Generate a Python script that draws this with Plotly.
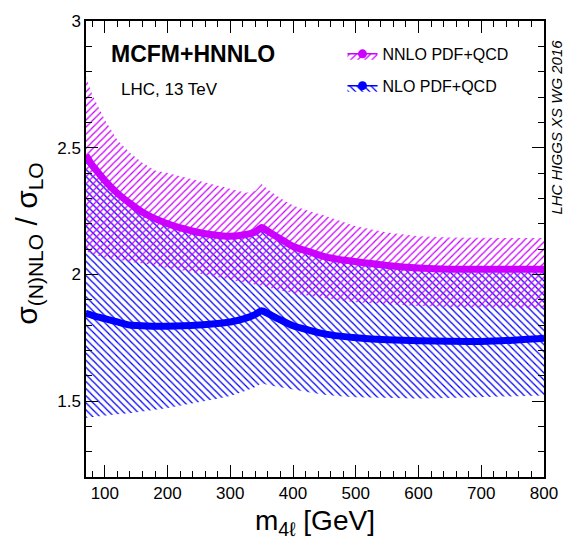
import plotly.graph_objects as go

# ---- data ----
mass = [70, 80, 90, 100, 120, 140, 160, 180, 200, 225, 250, 275, 300, 325, 340,
        350, 360, 380, 400, 425, 450, 475, 500, 550, 600, 650, 700, 750, 800]

nnlo_central = [2.47, 2.43, 2.40, 2.37, 2.32, 2.28, 2.245, 2.22, 2.20, 2.18, 2.165,
                2.155, 2.15, 2.157, 2.167, 2.185, 2.17, 2.14, 2.11, 2.09, 2.07,
                2.058, 2.05, 2.035, 2.025, 2.02, 2.02, 2.02, 2.02]
nnlo_upper = [2.78, 2.71, 2.66, 2.61, 2.53, 2.48, 2.44, 2.41, 2.40, 2.385, 2.37,
              2.355, 2.338, 2.322, 2.33, 2.357, 2.335, 2.30, 2.272, 2.25, 2.232,
              2.21, 2.19, 2.165, 2.15, 2.145, 2.143, 2.143, 2.143]
nnlo_lower = [2.09, 2.082, 2.073, 2.065, 2.057, 2.05, 2.043, 2.035, 2.025, 2.015,
              2.005, 1.993, 1.98, 1.967, 1.96, 1.955, 1.948, 1.935, 1.925, 1.915,
              1.905, 1.897, 1.89, 1.882, 1.875, 1.871, 1.868, 1.867, 1.866]

nlo_central = [1.846, 1.838, 1.831, 1.825, 1.812, 1.80, 1.797, 1.795, 1.795, 1.797,
               1.80, 1.805, 1.812, 1.827, 1.842, 1.856, 1.845, 1.82, 1.797, 1.78,
               1.765, 1.756, 1.75, 1.742, 1.738, 1.736, 1.735, 1.74, 1.748]
nlo_upper = [2.465, 2.425, 2.395, 2.365, 2.315, 2.275, 2.24, 2.215, 2.195, 2.175,
             2.16, 2.15, 2.145, 2.152, 2.162, 2.18, 2.165, 2.135, 2.105, 2.085,
             2.065, 2.053, 2.045, 2.03, 2.02, 2.015, 2.015, 2.015, 2.015]
nlo_lower = [1.434, 1.438, 1.44, 1.442, 1.448, 1.452, 1.458, 1.465, 1.472, 1.483,
             1.495, 1.507, 1.52, 1.54, 1.555, 1.57, 1.563, 1.553, 1.545, 1.535,
             1.525, 1.519, 1.515, 1.512, 1.51, 1.512, 1.515, 1.518, 1.522]

x_tick_vals = [100, 200, 300, 400, 500, 600, 700, 800]
y_tick_vals = [1.5, 2.0, 2.5, 3.0]
y_tick_text = ["1.5", "2", "2.5", "3"]

series_names = ["NNLO PDF+QCD", "NLO PDF+QCD"]

MAG = "#CC00FF"
BLUE = "#0000FF"
FONT = "Liberation Sans, Arial, sans-serif"

fig = go.Figure()


def band(xs, lo, hi, color, shape):
    return go.Scatter(
        x=list(xs) + list(xs)[::-1],
        y=list(hi) + list(lo)[::-1],
        fill="toself",
        mode="lines",
        line=dict(width=0, color=color),
        fillcolor="rgba(0,0,0,0)",
        fillpattern=dict(shape=shape, fgcolor=color, bgcolor="rgba(0,0,0,0)",
                         size=5, solidity=0.25, fillmode="replace"),
        showlegend=False,
        hoverinfo="skip",
    )


fig.add_trace(band(mass, nlo_lower, nlo_upper, BLUE, "\\"))
fig.add_trace(band(mass, nnlo_lower, nnlo_upper, MAG, "/"))

fig.add_trace(go.Scatter(x=mass, y=nlo_central, mode="lines",
                         line=dict(color=BLUE, width=7, shape="spline", smoothing=0.6),
                         showlegend=False))
fig.add_trace(go.Scatter(x=mass, y=nnlo_central, mode="lines",
                         line=dict(color=MAG, width=7, shape="spline", smoothing=0.6),
                         showlegend=False))

# legend entries
for name, color, shape, grp in [(series_names[0], MAG, "/", "a"),
                                (series_names[1], BLUE, "\\", "b")]:
    fig.add_trace(go.Scatter(
        x=[None], y=[None], name=name, legendgroup=grp,
        mode="lines+markers", fill="toself",
        fillcolor="rgba(0,0,0,0)",
        fillpattern=dict(shape=shape, fgcolor=color, bgcolor="rgba(0,0,0,0)",
                         size=5, solidity=0.25, fillmode="replace"),
        line=dict(color=color, width=1.5),
        marker=dict(color=color, size=9),
    ))

axis_common = dict(
    showline=True, linecolor="black", linewidth=1.5, mirror="ticks",
    ticks="inside", ticklen=12, tickwidth=1, tickcolor="black",
    showgrid=False, zeroline=False,
    tickfont=dict(family=FONT, size=17, color="black"),
)

fig.update_xaxes(range=[70, 800], tickvals=x_tick_vals,
                 minor=dict(dtick=20, tick0=0, ticks="inside", ticklen=6,
                            tickcolor="black", showgrid=False),
                 **axis_common)
fig.update_yaxes(range=[1.2, 3.0], tickvals=y_tick_vals, ticktext=y_tick_text,
                 minor=dict(dtick=0.1, tick0=0, ticks="inside", ticklen=6,
                            tickcolor="black", showgrid=False),
                 **axis_common)

fig.add_annotation(text="<b>MCFM+HNNLO</b>", xref="paper", yref="paper",
                   x=0.05, y=0.928, xanchor="left", yanchor="middle",
                   showarrow=False, font=dict(family=FONT, size=23, color="black"))
fig.add_annotation(text="LHC, 13 TeV", xref="paper", yref="paper",
                   x=0.073, y=0.85, xanchor="left", yanchor="middle",
                   showarrow=False, font=dict(family=FONT, size=17, color="black"))
fig.add_annotation(text="<i>LHC HIGGS XS WG 2016</i>", xref="paper", yref="paper",
                   x=1.028, y=0.768, xanchor="center", yanchor="middle",
                   textangle=-90, showarrow=False,
                   font=dict(family=FONT, size=15, color="black"))
fig.add_annotation(text="σ<sub>(N)NLO</sub> / σ<sub>LO</sub>", xref="paper", yref="paper",
                   x=-0.125, y=0.511, xanchor="center", yanchor="middle",
                   textangle=-90, showarrow=False,
                   font=dict(family=FONT, size=30, color="black"))
fig.add_annotation(text="m<sub>4ℓ</sub> [GeV]", xref="paper", yref="paper",
                   x=0.5, y=-0.1, xanchor="center", yanchor="middle",
                   showarrow=False, font=dict(family=FONT, size=28, color="black"))

fig.update_layout(
    width=570, height=542,
    margin=dict(l=86, r=20, t=15, b=65),
    paper_bgcolor="white", plot_bgcolor="white",
    legend=dict(x=0.56, y=0.965, xanchor="left", yanchor="top",
                bgcolor="rgba(0,0,0,0)", font=dict(family=FONT, size=16, color="black"),
                traceorder="grouped", tracegroupgap=8, itemwidth=30),
)

fig.write_html("out.html", config={"displayModeBar": False},
               post_script="document.body.style.margin='0px';document.body.style.padding='0px';document.body.style.overflow='hidden';")
